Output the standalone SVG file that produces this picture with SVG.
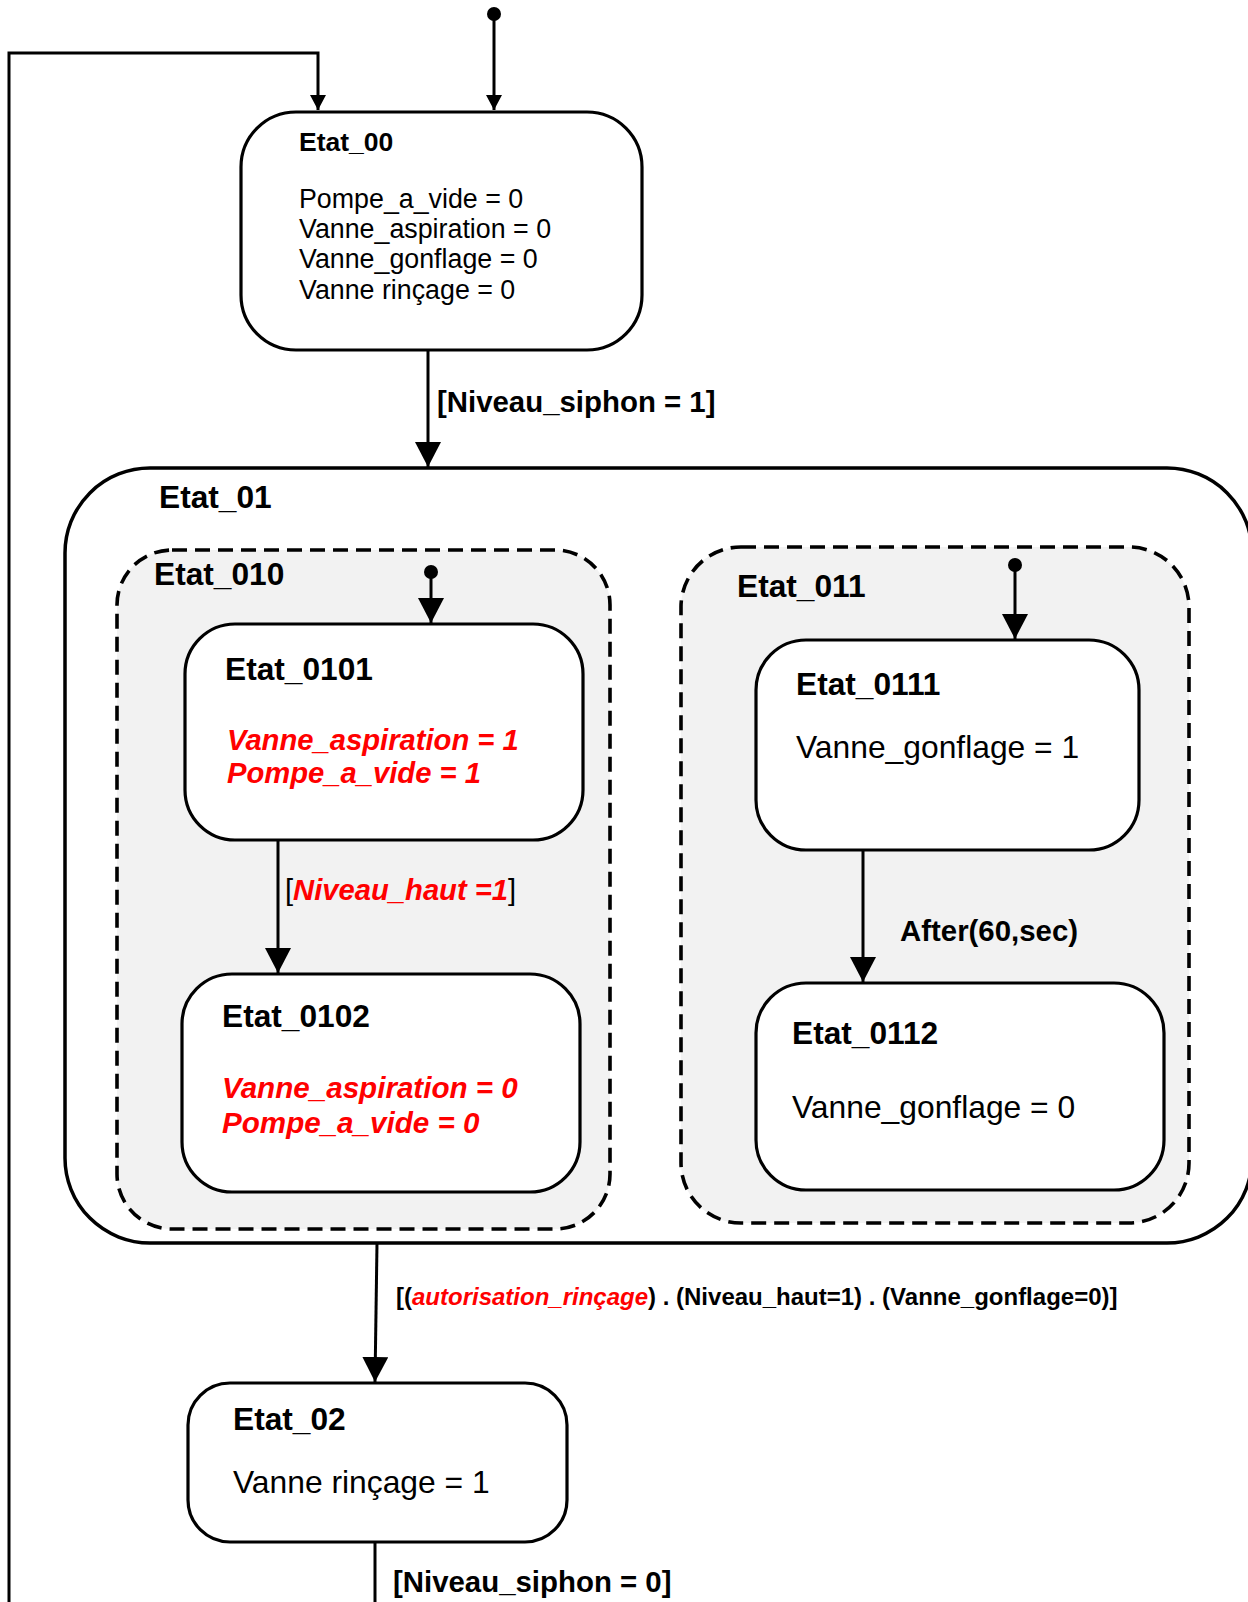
<svg xmlns="http://www.w3.org/2000/svg" width="1248" height="1602" viewBox="0 0 1248 1602">
<style>
  .state { fill: #ffffff; stroke: #000000; stroke-width: 3.2; }
  .region { fill: #f2f2f2; stroke: #000000; stroke-width: 3.6; stroke-dasharray: 15 8; }
  .outer { fill: #ffffff; stroke: #000000; stroke-width: 3.5; }
  .t { font-family: "Liberation Sans", Arial, sans-serif; fill: #000000; }
  .title { font-weight: bold; font-size: 31.7px; }
  .body { font-size: 31.8px; }
  .red { font-weight: bold; font-style: italic; fill: #ff0000; }
  .lbl { font-weight: bold; font-size: 29.4px; }
  .conn { fill: none; stroke: #000000; stroke-width: 3; }
  .dot { fill: #000000; }
</style>
<defs>
  <marker id="big" markerUnits="userSpaceOnUse" markerWidth="26" markerHeight="26" refX="25" refY="13" orient="auto">
    <path d="M0,0 L25,13 L0,26 z" fill="#000000"/>
  </marker>
  <marker id="small" markerUnits="userSpaceOnUse" markerWidth="16" markerHeight="16" refX="15" refY="8" orient="auto">
    <path d="M0,0 L15,8 L0,16 z" fill="#000000"/>
  </marker>
</defs>

<rect width="1248" height="1602" fill="#ffffff"/>

<g id="Etat_01">
  <rect class="outer" x="65" y="468" width="1187" height="775" rx="85" ry="85"/>
  <text class="t title" x="159" y="508">Etat_01</text>
</g>

<g id="Etat_010">
  <rect class="region" x="117" y="550" width="493" height="679" rx="55" ry="55"/>
  <text class="t title" x="154" y="585">Etat_010</text>
</g>

<g id="Etat_011">
  <rect class="region" x="681" y="547" width="508" height="676" rx="60" ry="60"/>
  <text class="t title" x="737" y="597">Etat_011</text>
</g>

<g id="Etat_00">
  <rect class="state" x="241" y="112" width="401" height="238" rx="55" ry="55"/>
  <text class="t" x="299" y="151" font-size="26.5" font-weight="bold">Etat_00</text>
  <text class="t" x="299" y="208" font-size="26.8">Pompe_a_vide = 0</text>
  <text class="t" x="299" y="238" font-size="26.8">Vanne_aspiration = 0</text>
  <text class="t" x="299" y="268" font-size="26.8">Vanne_gonflage = 0</text>
  <text class="t" x="299" y="299" font-size="26.8">Vanne rinçage = 0</text>
</g>

<g id="Etat_0101">
  <rect class="state" x="185" y="624" width="398" height="216" rx="50" ry="50"/>
  <text class="t title" x="225" y="680">Etat_0101</text>
  <text class="t red" x="227" y="750" font-size="29.2">Vanne_aspiration = 1</text>
  <text class="t red" x="227" y="783" font-size="29.2">Pompe_a_vide = 1</text>
</g>

<g id="Etat_0102">
  <rect class="state" x="182" y="974" width="398" height="218" rx="50" ry="50"/>
  <text class="t title" x="222" y="1027">Etat_0102</text>
  <text class="t red" x="222" y="1098" font-size="29.6">Vanne_aspiration = 0</text>
  <text class="t red" x="222" y="1133" font-size="29.6">Pompe_a_vide = 0</text>
</g>

<g id="Etat_0111">
  <rect class="state" x="756" y="640" width="383" height="210" rx="50" ry="50"/>
  <text class="t title" x="796" y="695">Etat_0111</text>
  <text class="t body" x="796" y="758">Vanne_gonflage = 1</text>
</g>

<g id="Etat_0112">
  <rect class="state" x="756" y="983" width="408" height="207" rx="50" ry="50"/>
  <text class="t title" x="792" y="1044">Etat_0112</text>
  <text class="t body" x="792" y="1118">Vanne_gonflage = 0</text>
</g>

<g id="Etat_02">
  <rect class="state" x="188" y="1383" width="379" height="159" rx="42" ry="42"/>
  <text class="t title" x="233" y="1430">Etat_02</text>
  <text class="t body" x="233" y="1493">Vanne rinçage = 1</text>
</g>

<g id="connectors">
  <circle class="dot" cx="494" cy="14" r="7"/>
  <line class="conn" x1="494" y1="14" x2="494" y2="110" stroke-width="2" marker-end="url(#small)"/>
  <path class="conn" d="M9,1602 L9,53 L318,53 L318,110" marker-end="url(#small)"/>
  <line class="conn" x1="428" y1="350" x2="428" y2="467" stroke-width="4" marker-end="url(#big)"/>
  <circle class="dot" cx="431" cy="572" r="7"/>
  <line class="conn" x1="431" y1="572" x2="431" y2="623" marker-end="url(#big)"/>
  <line class="conn" x1="278" y1="840" x2="278" y2="973" marker-end="url(#big)"/>
  <circle class="dot" cx="1015" cy="565" r="7"/>
  <line class="conn" x1="1015" y1="565" x2="1015" y2="639" marker-end="url(#big)"/>
  <line class="conn" x1="863" y1="850" x2="863" y2="982" marker-end="url(#big)"/>
  <line class="conn" x1="377" y1="1243" x2="375" y2="1382" marker-end="url(#big)"/>
  <line class="conn" x1="375" y1="1542" x2="375" y2="1602"/>

  <text class="t lbl" x="437" y="412">[Niveau_siphon = 1]</text>
  <text class="t" x="285" y="900" font-size="29.2"><tspan>[</tspan><tspan class="red">Niveau_haut =1</tspan><tspan>]</tspan></text>
  <text class="t lbl" x="900" y="941">After(60,sec)</text>
  <text class="t" x="396" y="1305" font-size="24" font-weight="bold"><tspan>[(</tspan><tspan class="red">autorisation_rinçage</tspan><tspan>) . (Niveau_haut=1) . (Vanne_gonflage=0)]</tspan></text>
  <text class="t lbl" x="393" y="1592">[Niveau_siphon = 0]</text>
</g>
</svg>
